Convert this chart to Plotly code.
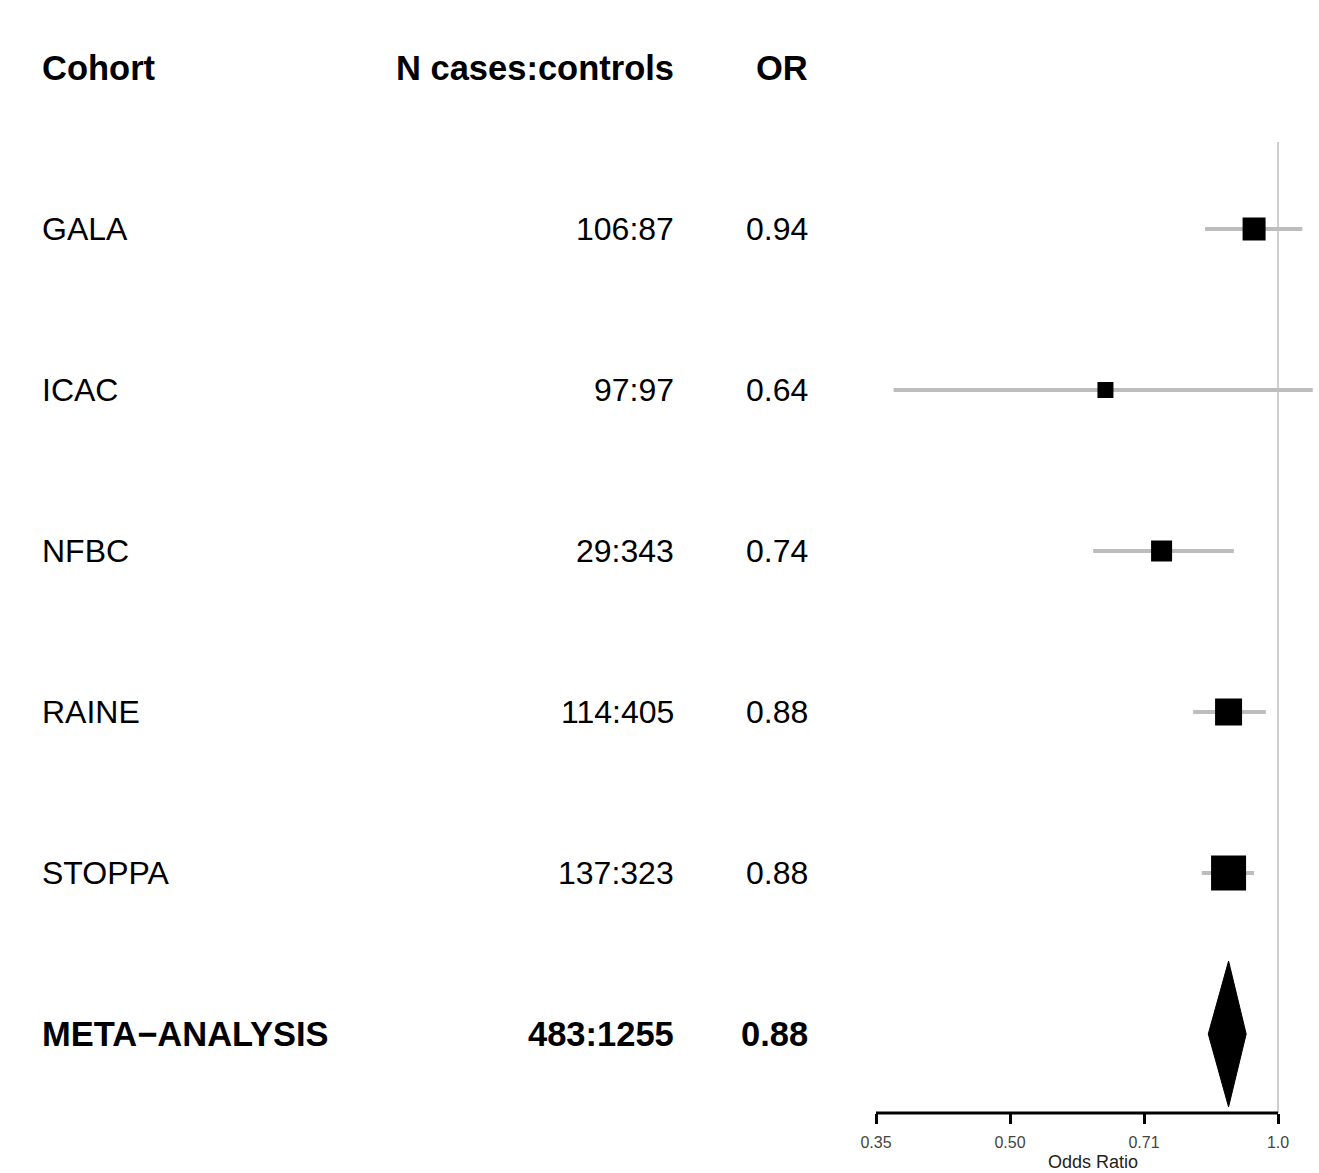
import numpy as np
import plotly.graph_objects as go

# ---- data -------------------------------------------------------------
cohorts = ["GALA", "ICAC", "NFBC", "RAINE", "STOPPA"]
n_cases_controls = ["106:87", "97:97", "29:343", "114:405", "137:323"]
odds_ratio = [0.94, 0.64, 0.74, 0.88, 0.88]
ci_lower = [0.828, 0.370, 0.620, 0.803, 0.821]
ci_upper = [1.065, 1.094, 0.892, 0.969, 0.940]
box_size = [23, 16, 21, 27, 35]  # study weight -> square side in px

meta_label = "META\u2212ANALYSIS"
meta_n = "483:1255"
meta_or = 0.88
meta_lower = 0.835
meta_upper = 0.921

header = ["Cohort", "N cases:controls", "OR"]
tick_vals = [2 ** -1.5, 2 ** -1, 2 ** -0.5, 1.0]
tick_text = ["0.35", "0.50", "0.71", "1.0"]
x_title = "Odds Ratio"

# ---- geometry ---------------------------------------------------------
W, H = 1319, 1173
BOTTOM = 60
PLOT_H = H - BOTTOM
FONT = "Liberation Sans, Arial, Helvetica, sans-serif"
rows = list(range(1, len(cohorts) + 1))
meta_row = len(cohorts) + 1

# log-scaled x axis spanning the full width; 0.35 sits at 876 px, 1.0 at 1278 px
k = (1278 - 876) / (np.log10(1.0) - np.log10(tick_vals[0]))
x_range = [-1278 / k, (W - 1278) / k]

fig = go.Figure()

# confidence-interval whiskers
for r, lo, hi in zip(rows, ci_lower, ci_upper):
    fig.add_trace(go.Scatter(
        x=[lo, hi], y=[r, r], mode="lines",
        line=dict(color="#bdbdbd", width=4),
        hoverinfo="skip",
    ))

# point estimates (squares sized by weight)
fig.add_trace(go.Scatter(
    x=odds_ratio, y=rows, mode="markers",
    marker=dict(symbol="square", size=box_size, color="black", opacity=1,
                line=dict(width=0, color="black")),
    opacity=1,
    text=cohorts, hovertemplate="%{text}: OR %{x}<extra></extra>",
))

# pooled estimate diamond
half_h = 0.453
fig.add_trace(go.Scatter(
    x=[meta_lower, meta_or, meta_upper, meta_or, meta_lower],
    y=[meta_row, meta_row - half_h, meta_row, meta_row + half_h, meta_row],
    mode="lines", fill="toself", fillcolor="black",
    line=dict(color="black", width=1),
    hoverinfo="skip",
))

# reference line at OR = 1 and the bottom axis baseline
shapes = [
    dict(type="line", xref="x", yref="y", x0=1.0, x1=1.0, y0=0.46, y1=6.4907,
         line=dict(color="#cfcfcf", width=2), layer="below"),
    dict(type="line", xref="x", yref="paper", x0=tick_vals[0], x1=tick_vals[-1],
         y0=0, y1=0, line=dict(color="black", width=3), layer="above"),
]

# ---- table text -------------------------------------------------------
col_cohort, col_n, col_or = 40 / W, 676 / W, 810 / W
annotations = []


def add_text(x, y, text, anchor, bold=False):
    annotations.append(dict(
        x=x, y=y, xref="paper", yref="y", text=text, showarrow=False,
        xanchor=anchor, yanchor="middle",
        font=dict(family=FONT, size=34.5 if bold else 32, color="black",
                  weight="bold" if bold else "normal"),
    ))


add_text(col_cohort, 0, header[0], "left", True)
add_text(col_n, 0, header[1], "right", True)
add_text(col_or, 0, header[2], "right", True)

for r, c, n, o in zip(rows, cohorts, n_cases_controls, odds_ratio):
    add_text(col_cohort, r, c, "left")
    add_text(col_n, r, n, "right")
    add_text(col_or, r, f"{o:.2f}", "right")

add_text(col_cohort, meta_row, meta_label, "left", True)
add_text(col_n, meta_row, meta_n, "right", True)
add_text(col_or, meta_row, f"{meta_or:.2f}", "right", True)

# x-axis title centred under the tick range
annotations.append(dict(
    x=1093 / W, y=(PLOT_H - 1162) / PLOT_H, xref="paper", yref="paper",
    text=x_title, showarrow=False, xanchor="center", yanchor="middle",
    font=dict(family=FONT, size=18, color="#222222"),
))

fig.update_layout(
    width=W, height=H,
    margin=dict(l=0, r=0, t=0, b=BOTTOM),
    paper_bgcolor="white", plot_bgcolor="white",
    showlegend=False,
    shapes=shapes,
    annotations=annotations,
    xaxis=dict(
        type="log", range=x_range, domain=[0, 1],
        tickvals=tick_vals, ticktext=tick_text,
        ticks="outside", ticklen=10, tickwidth=3, tickcolor="black",
        ticklabelstandoff=5,
        showgrid=False, zeroline=False, showline=False,
        tickfont=dict(family=FONT, size=16, color="#444444"),
    ),
    yaxis=dict(range=[6.4907, -0.4224], visible=False, showgrid=False,
               zeroline=False),
)

fig.write_html("out.html")
